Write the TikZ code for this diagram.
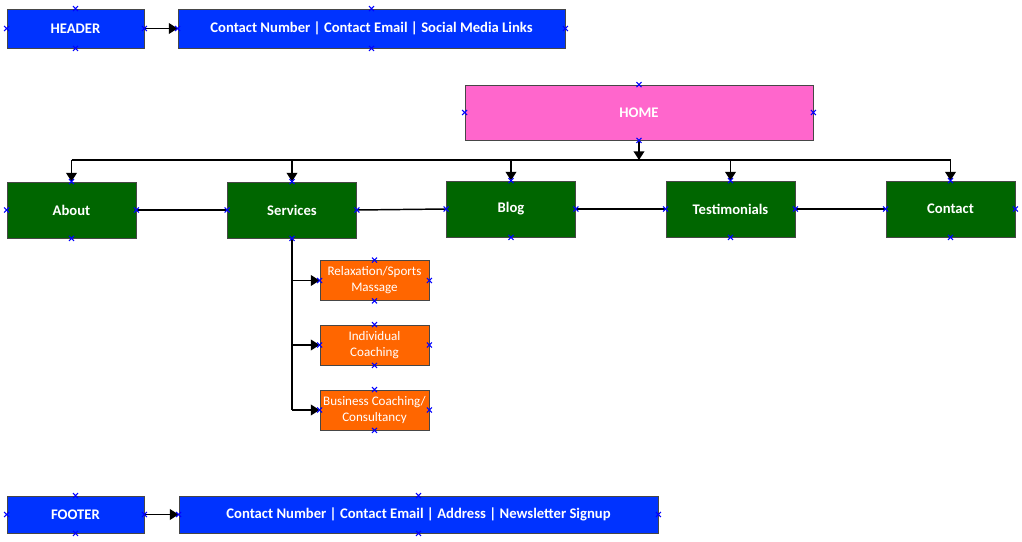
\documentclass[tikz,border=0pt]{standalone}
\usepackage{fontspec}
\setmainfont{Carlito}
\usetikzlibrary{arrows.meta,calc}
\definecolor{hblue}{RGB}{0,51,255}
\definecolor{hgreen}{RGB}{0,102,0}
\definecolor{hpink}{RGB}{255,102,204}
\definecolor{horange}{RGB}{255,102,0}
\definecolor{hborder}{RGB}{70,70,70}
\tikzset{
  box/.style={draw=hborder, line width=0.7pt, text=white, font=\bfseries\fontsize{11}{12}\selectfont, inner sep=0pt, align=center},
  bluebox/.style={box, fill=hblue},
  greenbox/.style={box, fill=hgreen, minimum width=96.75pt, minimum height=42pt},
  pinkbox/.style={box, fill=hpink},
  orangebox/.style={box, fill=horange, font=\fontsize{9.8}{12}\selectfont, minimum width=81.75pt, minimum height=30pt},
  conn/.style={line width=1.1pt, draw=black},
  arr/.style={conn, -{Triangle[length=6.5pt,width=8pt]}},
  xmark/.style={draw=blue, line width=0.8pt}
}
\newcommand{\xm}[1]{\draw[xmark] ($(#1)+(-2.5,-2.5)$) -- ($(#1)+(2.5,2.5)$) ($(#1)+(-2.5,2.5)$) -- ($(#1)+(2.5,-2.5)$);}
\begin{document}
\begin{tikzpicture}[x=0.75pt,y=-0.75pt]
\useasboundingbox (0,0) rectangle (1022,542);
% header
\node[bluebox, minimum width=102.75pt, minimum height=29.25pt] (header) at (75.5,28.5) {HEADER};
\node[bluebox, minimum width=290.25pt, minimum height=29.25pt] (hcont) at (371.5,28.5) {Contact Number | Contact Email | Social Media Links};
% home
\node[pinkbox, minimum width=261pt, minimum height=41.25pt] (home) at (639,112.5) {HOME};
% pages
\node[greenbox] (about) at (71.5,210) {About};
\node[greenbox] (services) at (292,210) {Services};
\node[greenbox] (blog) at (511,209) {Blog};
\node[greenbox] (testi) at (730.5,209) {Testimonials};
\node[greenbox] (contact) at (950.5,209) {Contact};
% services sub
\node[orangebox] (relax) at (374.5,280.5) {Relaxation/Sports\\Massage};
\node[orangebox] (indiv) at (374.5,345) {Individual\\Coaching};
\node[orangebox] (busi) at (374.5,410) {Business Coaching/\\Consultancy};
% footer
\node[bluebox, minimum width=102.75pt, minimum height=27.75pt] (footer) at (75.5,514.5) {FOOTER};
\node[bluebox, minimum width=359.25pt, minimum height=27.75pt] (fcont) at (418.5,514.5) {Contact Number | Contact Email | Address | Newsletter Signup};

% connectors
\draw[arr] (header.east) -- (hcont.west);
\draw[arr] (footer.east) -- (fcont.west);
\coordinate (bus) at (639,160);
\draw[arr] (home.south) -- (bus);
\draw[conn] (about.north |- bus) -- (contact.north |- bus);
\foreach \n in {about,services,blog,testi,contact}{
  \draw[arr] (\n.north |- bus) -- (\n.north);}
\draw[conn] (about.east) -- (services.west);
\draw[conn] (services.east) -- (blog.west);
\draw[conn] (blog.east) -- (testi.west);
\draw[conn] (testi.east) -- (contact.west);
\draw[conn] (services.south) -- (services.south |- busi.west);
\foreach \n in {relax,indiv,busi}{
  \draw[arr] (services.south |- \n.west) -- (\n.west);}

% connection point markers
\foreach \n in {header,hcont,home,about,services,blog,testi,contact,relax,indiv,busi,footer,fcont}{
  \foreach \a in {north,south,east,west}{
    \xm{\n.\a}}}
\end{tikzpicture}
\end{document}
